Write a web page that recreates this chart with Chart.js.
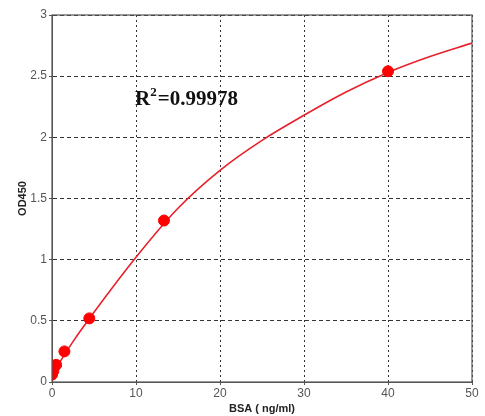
<!DOCTYPE html>
<html lang="en">
<head>
  <meta charset="UTF-8" />
  <title>BSA standard curve</title>
  <script src="https://cdn.jsdelivr.net/npm/chart.js"></script>
  <style>
    body {
      margin: 0;
      padding: 0;
      background-color: #fff;
    }
    .wrap {
      width: 485px;
      height: 416px;
    }
  </style>
</head>
<body>
  <div class="wrap">
    <canvas id="curveChart" width="485" height="416"></canvas>
  </div>
  <script>
    // standards (ng/ml) and measured OD450
    const stdConc = [0, 0.16, 0.49, 1.48, 4.44, 13.33, 40];
    const stdOD = [0.06, 0.09, 0.14, 0.25, 0.52, 1.32, 2.54];

    // fitted curve
    const fitConc = [0, 2.5, 5, 10, 15, 20, 25, 30, 35, 40, 45, 50];
    const fitOD = [0.06, 0.33, 0.57, 1.02, 1.42, 1.73, 1.975, 2.18, 2.37, 2.53, 2.66, 2.77];

    const xTicks = [0, 10, 20, 30, 40, 50];
    const yTicks = [0, 0.5, 1, 1.5, 2, 2.5, 3];
    const r2Text = '0.99978';

    const frame = {
      id: 'frame',
      afterDraw(chart) {
        const { ctx, chartArea: a } = chart;
        ctx.save();
        ctx.strokeStyle = '#555';
        ctx.lineWidth = 1.2;
        ctx.strokeRect(a.left, a.top, a.right - a.left, a.bottom - a.top);
        // R squared label
        ctx.fillStyle = '#111';
        ctx.textBaseline = 'alphabetic';
        ctx.font = 'bold 21px "Liberation Serif", "DejaVu Serif", serif';
        ctx.fillText('R', 135, 105);
        let w = ctx.measureText('R').width;
        ctx.font = 'bold 13px "Liberation Serif", "DejaVu Serif", serif';
        ctx.fillText('2', 135 + w, 96);
        let w2 = ctx.measureText('2').width;
        ctx.font = 'bold 21px "Liberation Serif", "DejaVu Serif", serif';
        ctx.fillText('=' + r2Text, 135 + w + w2 + 1, 105);
        ctx.restore();
      }
    };

    const ctx = document.getElementById('curveChart').getContext('2d');
    new Chart(ctx, {
      type: 'scatter',
      data: {
        datasets: [
          {
            label: 'fit',
            data: fitConc.map((x, i) => ({ x: x, y: fitOD[i] })),
            showLine: true,
            borderColor: '#e8202a',
            borderWidth: 1.6,
            pointRadius: 0,
            cubicInterpolationMode: 'monotone',
            order: 2
          },
          {
            label: 'standards',
            data: stdConc.map((x, i) => ({ x: x, y: stdOD[i] })),
            backgroundColor: '#ff0000',
            borderColor: '#ff0000',
            pointRadius: 5.5,
            order: 1
          }
        ]
      },
      options: {
        responsive: false,
        animation: false,
        layout: { padding: { left: 0, top: 15, right: 13, bottom: 0 } },
        plugins: {
          legend: { display: false },
          tooltip: { enabled: false }
        },
        scales: {
          x: {
            type: 'linear',
            min: 0,
            max: 50,
            afterBuildTicks: s => { s.ticks = xTicks.map(v => ({ value: v })); },
            afterFit: s => { s.height = 34; },
            grid: {
              color: '#333',
              tickLength: 3,
              tickColor: '#555'
            },
            border: { display: true, color: '#555', dash: [2, 3] },
            ticks: {
              color: '#555',
              padding: 1,
              callback: v => String(v),
              font: { family: 'Arial, "Liberation Sans", sans-serif', size: 12 }
            },
            title: {
              display: true,
              text: 'BSA ( ng/ml)',
              color: '#222',
              padding: 0,
              font: { family: 'Arial, "Liberation Sans", sans-serif', size: 11, weight: 'bold' }
            }
          },
          y: {
            type: 'linear',
            min: 0,
            max: 3,
            afterBuildTicks: s => { s.ticks = yTicks.map(v => ({ value: v })); },
            afterFit: s => { s.width = 52; },
            grid: {
              color: '#333',
              tickLength: 3,
              tickColor: '#555'
            },
            border: { display: true, color: '#555', dash: [4, 3] },
            ticks: {
              color: '#555',
              padding: 2,
              callback: v => String(v),
              font: { family: 'Arial, "Liberation Sans", sans-serif', size: 12 }
            },
            title: {
              display: true,
              text: 'OD450',
              color: '#222',
              padding: { top: 16, bottom: 0 },
              font: { family: 'Arial, "Liberation Sans", sans-serif', size: 11, weight: 'bold' }
            }
          }
        }
      },
      plugins: [frame]
    });
  </script>
</body>
</html>
